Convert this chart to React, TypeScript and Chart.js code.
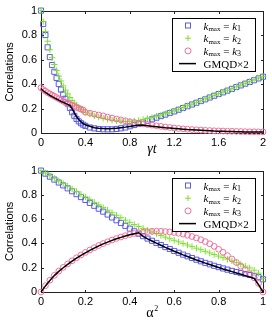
import React, { useEffect, useRef } from "react";
import { Chart, registerables } from "chart.js";
Chart.register(...registerables);

// ---------- Top panel data (x = γt) ----------
const topX = [
  0, 0.02, 0.04, 0.06, 0.08, 0.1, 0.12, 0.14, 0.16, 0.18, 0.2, 0.22, 0.24, 0.26, 0.28, 0.3, 0.32, 0.34, 0.36, 0.38, 0.4,
  0.44, 0.48, 0.52, 0.56, 0.6, 0.64, 0.68, 0.72, 0.76, 0.8, 0.84, 0.88, 0.92, 0.96, 1.0, 1.04, 1.08, 1.12, 1.16, 1.2,
  1.24, 1.28, 1.32, 1.36, 1.4, 1.44, 1.48, 1.52, 1.56, 1.6, 1.64, 1.68, 1.72, 1.76, 1.8, 1.84, 1.88, 1.92, 1.96, 2.0,
];
const topK1 = [
  1.0, 0.89, 0.8, 0.7, 0.62, 0.555, 0.5, 0.45, 0.4, 0.355, 0.315, 0.28, 0.24, 0.205, 0.17, 0.14, 0.115, 0.095, 0.08, 0.068, 0.058,
  0.045, 0.038, 0.033, 0.03, 0.03, 0.03, 0.033, 0.038, 0.045, 0.055, 0.065, 0.075, 0.088, 0.1, 0.112, 0.125, 0.138, 0.15, 0.163, 0.176,
  0.19, 0.204, 0.219, 0.233, 0.247, 0.261, 0.275, 0.29, 0.304, 0.318, 0.332, 0.346, 0.36, 0.375, 0.389, 0.403, 0.417, 0.431, 0.446, 0.46,
];
const topK2 = [
  1.0, 0.91, 0.83, 0.75, 0.68, 0.615, 0.56, 0.51, 0.465, 0.425, 0.385, 0.35, 0.32, 0.29, 0.265, 0.245, 0.225, 0.21, 0.195, 0.18, 0.17,
  0.155, 0.14, 0.13, 0.12, 0.112, 0.105, 0.1, 0.096, 0.094, 0.095, 0.098, 0.103, 0.11, 0.118, 0.127, 0.137, 0.147, 0.158, 0.169, 0.181,
  0.194, 0.208, 0.222, 0.236, 0.25, 0.264, 0.278, 0.292, 0.307, 0.321, 0.335, 0.349, 0.363, 0.378, 0.392, 0.406, 0.42, 0.434, 0.449, 0.463,
];
const topK3 = [
  0.37, 0.355, 0.342, 0.33, 0.32, 0.31, 0.3, 0.29, 0.28, 0.27, 0.26, 0.252, 0.244, 0.235, 0.226, 0.218, 0.21, 0.202, 0.195, 0.188, 0.17,
  0.162, 0.154, 0.147, 0.14, 0.13, 0.122, 0.114, 0.107, 0.1, 0.092, 0.086, 0.08, 0.074, 0.069, 0.064, 0.059, 0.054, 0.049, 0.045, 0.041,
  0.037, 0.034, 0.031, 0.028, 0.026, 0.024, 0.022, 0.02, 0.018, 0.017, 0.016, 0.015, 0.014, 0.013, 0.012, 0.011, 0.01, 0.01, 0.009, 0.009,
];
const topGMQD = [
  0.36, 0.345, 0.332, 0.32, 0.308, 0.297, 0.287, 0.278, 0.268, 0.259, 0.25, 0.242, 0.234, 0.225, 0.2, 0.165, 0.135, 0.11, 0.092, 0.077, 0.067,
  0.055, 0.043, 0.038, 0.036, 0.035, 0.036, 0.038, 0.043, 0.048, 0.054, 0.06, 0.066, 0.063, 0.059, 0.055, 0.051, 0.047, 0.043, 0.04, 0.037,
  0.034, 0.031, 0.028, 0.026, 0.024, 0.022, 0.02, 0.018, 0.016, 0.015, 0.014, 0.013, 0.012, 0.011, 0.01, 0.009, 0.009, 0.008, 0.008, 0.008,
];
const topXTicks = [0, 0.4, 0.8, 1.2, 1.6, 2];

// ---------- Bottom panel data (x = α²) ----------
const botX = [
  0, 0.02, 0.04, 0.06, 0.08, 0.1, 0.12, 0.14, 0.16, 0.18, 0.2, 0.22, 0.24, 0.26, 0.28, 0.3, 0.32, 0.34, 0.36, 0.38, 0.4,
  0.42, 0.44, 0.46, 0.48, 0.5, 0.52, 0.54, 0.56, 0.58, 0.6, 0.62, 0.64, 0.66, 0.68, 0.7, 0.72, 0.74, 0.76, 0.78, 0.8,
  0.82, 0.84, 0.86, 0.88, 0.9, 0.92, 0.94, 0.96, 0.98, 1.0,
];
const botK1 = [
  1.0, 0.975, 0.95, 0.926, 0.902, 0.878, 0.854, 0.83, 0.806, 0.782, 0.758, 0.734, 0.71, 0.686, 0.662, 0.638, 0.614, 0.591, 0.568, 0.545, 0.522,
  0.5, 0.48, 0.46, 0.44, 0.422, 0.404, 0.387, 0.37, 0.354, 0.338, 0.323, 0.308, 0.294, 0.28, 0.266, 0.253, 0.24, 0.228, 0.216, 0.205,
  0.194, 0.184, 0.174, 0.165, 0.156, 0.148, 0.14, 0.132, 0.122, 0.105,
];
const botK2 = [
  1.0, 0.98, 0.958, 0.937, 0.915, 0.893, 0.871, 0.849, 0.827, 0.805, 0.783, 0.761, 0.739, 0.717, 0.695, 0.674, 0.653, 0.632, 0.612, 0.592, 0.574,
  0.556, 0.54, 0.524, 0.509, 0.494, 0.48, 0.466, 0.452, 0.439, 0.426, 0.413, 0.4, 0.387, 0.374, 0.361, 0.348, 0.335, 0.322, 0.309, 0.296,
  0.283, 0.27, 0.256, 0.242, 0.228, 0.213, 0.198, 0.18, 0.155, 0.11,
];
const botK3 = [
  0, 0.052, 0.097, 0.137, 0.172, 0.203, 0.231, 0.257, 0.282, 0.305, 0.326, 0.346, 0.365, 0.383, 0.399, 0.414, 0.428, 0.441, 0.453, 0.464, 0.474,
  0.482, 0.488, 0.493, 0.497, 0.5, 0.501, 0.5, 0.498, 0.495, 0.49, 0.484, 0.477, 0.468, 0.457, 0.445, 0.431, 0.415, 0.397, 0.376, 0.352,
  0.327, 0.3, 0.272, 0.243, 0.213, 0.182, 0.15, 0.117, 0.07, 0.0,
];
const botGMQD = [
  0, 0.05, 0.095, 0.135, 0.17, 0.2, 0.228, 0.254, 0.279, 0.302, 0.323, 0.343, 0.362, 0.38, 0.396, 0.411, 0.425, 0.438, 0.45, 0.461, 0.471,
  0.48, 0.488, 0.458, 0.438, 0.42, 0.402, 0.385, 0.368, 0.352, 0.336, 0.321, 0.306, 0.292, 0.278, 0.264, 0.251, 0.238, 0.226, 0.214, 0.202,
  0.19, 0.179, 0.168, 0.157, 0.146, 0.135, 0.124, 0.112, 0.06, 0.0,
];
const botXTicks = [0, 0.2, 0.4, 0.6, 0.8, 1];

const yTicks = [0, 0.2, 0.4, 0.6, 0.8, 1];
const yTitle = "Correlations";
const legendLabels = ["k1", "k2", "k3", "GMQD×2"];

const BLUE = "#5b5be8";
const GREEN = "#7ee02c";
const PINK = "#f2709b";
const SANS = "'Liberation Sans', Arial, sans-serif";
const SERIF = "'Liberation Serif', 'Times New Roman', serif";

function fmt(v: number) {
  return String(Number(v.toFixed(2)));
}

function drawLegend(ctx: CanvasRenderingContext2D, area: any) {
  const w = 83, h = 53;
  const lx = Math.round(area.right - 91.5) + 0.5;
  const ly = Math.round(area.top + 7.5) + 0.5;
  ctx.save();
  ctx.fillStyle = "#fff";
  ctx.fillRect(lx, ly, w, h);
  ctx.strokeStyle = "#000";
  ctx.lineWidth = 1;
  ctx.strokeRect(lx, ly, w, h);
  const mx = lx + 15.5;
  const tx = lx + 31;
  legendLabels.forEach((lab, i) => {
    const cy = ly + 7 + i * 12.7;
    ctx.lineWidth = 1;
    if (i === 0) {
      ctx.strokeStyle = BLUE;
      ctx.strokeRect(mx - 2.5, cy - 2.5, 5, 5);
    } else if (i === 1) {
      ctx.strokeStyle = GREEN;
      ctx.beginPath();
      ctx.moveTo(mx - 3, cy); ctx.lineTo(mx + 3, cy);
      ctx.moveTo(mx, cy - 3); ctx.lineTo(mx, cy + 3);
      ctx.stroke();
    } else if (i === 2) {
      ctx.strokeStyle = PINK;
      ctx.beginPath();
      ctx.arc(mx, cy, 3, 0, Math.PI * 2);
      ctx.stroke();
    } else {
      ctx.strokeStyle = "#000";
      ctx.lineWidth = 1.5;
      ctx.beginPath();
      ctx.moveTo(lx + 6.5, cy); ctx.lineTo(lx + 23.5, cy);
      ctx.stroke();
    }
    ctx.fillStyle = "#000";
    ctx.textBaseline = "alphabetic";
    ctx.textAlign = "left";
    const base = cy + 4;
    if (i < 3) {
      let x = tx;
      ctx.font = `italic 11px ${SERIF}`;
      ctx.fillText("k", x, base); x += ctx.measureText("k").width;
      ctx.font = `7px ${SERIF}`;
      ctx.fillText("max", x, base + 1.5); x += ctx.measureText("max").width;
      ctx.font = `11px ${SERIF}`;
      ctx.fillText(" = ", x, base); x += ctx.measureText(" = ").width;
      ctx.font = `italic 11px ${SERIF}`;
      ctx.fillText("k", x, base); x += ctx.measureText("k").width;
      ctx.font = `8px ${SERIF}`;
      ctx.fillText(lab.slice(1), x, base + 1.5);
    } else {
      ctx.font = `11px ${SERIF}`;
      ctx.fillText(lab, tx, base);
    }
  });
  ctx.restore();
}

function makeDeco(kind: "top" | "bot") {
  return {
    id: "deco_" + kind,
    beforeDatasetsDraw(chart: any) {
      const { ctx, chartArea: a, scales } = chart;
      const L = Math.round(a.left) + 0.5, R = Math.round(a.right) + 0.5;
      const T = Math.round(a.top) + 0.5, B = Math.round(a.bottom) + 0.5;
      ctx.save();
      ctx.strokeStyle = "#222";
      ctx.lineWidth = 1;
      ctx.strokeRect(L, T, R - L, B - T);
      const tl = 2.5;
      ctx.beginPath();
      scales.x.ticks.forEach((t: any) => {
        const px = Math.round(scales.x.getPixelForValue(t.value)) + 0.5;
        ctx.moveTo(px, B); ctx.lineTo(px, B - tl);
        ctx.moveTo(px, T); ctx.lineTo(px, T + tl);
      });
      scales.y.ticks.forEach((t: any) => {
        const py = Math.round(scales.y.getPixelForValue(t.value)) + 0.5;
        ctx.moveTo(L, py); ctx.lineTo(L + tl, py);
        ctx.moveTo(R, py); ctx.lineTo(R - tl, py);
      });
      ctx.stroke();

      // y title
      ctx.fillStyle = "#000";
      ctx.font = `11px ${SANS}`;
      ctx.textAlign = "center";
      ctx.textBaseline = "middle";
      ctx.save();
      ctx.translate(10, (a.top + a.bottom) / 2);
      ctx.rotate(-Math.PI / 2);
      ctx.fillText(yTitle, 0, 0);
      ctx.restore();

      // x title
      const cx = (a.left + a.right) / 2;
      ctx.textBaseline = "alphabetic";
      ctx.textAlign = "left";
      if (kind === "top") {
        ctx.font = `italic 14px ${SERIF}`;
        const w = ctx.measureText("γt").width;
        ctx.fillText("γt", cx - w / 2, a.bottom + 20);
      } else {
        ctx.font = `14px ${SERIF}`;
        const w1 = ctx.measureText("α").width;
        ctx.font = `8px ${SERIF}`;
        const w2 = ctx.measureText("2").width;
        let x = cx - (w1 + w2) / 2;
        ctx.font = `14px ${SERIF}`;
        ctx.fillText("α", x, a.bottom + 25);
        ctx.font = `8px ${SERIF}`;
        ctx.fillText("2", x + w1 + 0.5, a.bottom + 19);
      }
      ctx.restore();
    },
    afterDatasetsDraw(chart: any) {
      drawLegend(chart.ctx, chart.chartArea);
    },
  };
}

function buildConfig(kind: "top" | "bot", canvasH: number, bottom: number) {
  const xs = kind === "top" ? topX : botX;
  const k1 = kind === "top" ? topK1 : botK1;
  const k2 = kind === "top" ? topK2 : botK2;
  const k3 = kind === "top" ? topK3 : botK3;
  const g = kind === "top" ? topGMQD : botGMQD;
  const xTicks = kind === "top" ? topXTicks : botXTicks;
  const pts = (ys: number[]) => xs.map((x, i) => ({ x, y: ys[i] }));
  return {
    type: "line" as const,
    data: {
      datasets: [
        { label: "k1", data: pts(k1), showLine: false, clip: false, pointStyle: "rect", pointRadius: 3.6, borderColor: BLUE, backgroundColor: "transparent", borderWidth: 1, order: 4 },
        { label: "k2", data: pts(k2), showLine: false, clip: false, pointStyle: "cross", pointRadius: 3.2, borderColor: GREEN, backgroundColor: "transparent", borderWidth: 1, order: 3 },
        { label: "k3", data: pts(k3), showLine: false, clip: false, pointStyle: "circle", pointRadius: 2.9, borderColor: PINK, backgroundColor: "transparent", borderWidth: 1, order: 2 },
        { label: "GMQD×2", data: pts(g), showLine: true, clip: false, pointRadius: 0, borderColor: "#000", borderWidth: 1.5, tension: 0, order: 1 },
      ],
    },
    options: {
      responsive: false,
      animation: false,
      events: [],
      layout: { padding: { left: 0, right: 9, top: 10, bottom: 0 } },
      plugins: { legend: { display: false }, tooltip: { enabled: false } },
      scales: {
        x: {
          type: "linear",
          min: xTicks[0],
          max: xTicks[xTicks.length - 1],
          grid: { display: false, drawTicks: false },
          border: { display: false },
          afterBuildTicks: (s: any) => { s.ticks = xTicks.map((v) => ({ value: v })); },
          afterFit: (s: any) => { s.height = canvasH - bottom; },
          ticks: { padding: 3, color: "#000", font: { family: SANS, size: 11 }, maxRotation: 0, callback: (v: any) => fmt(Number(v)) },
        },
        y: {
          min: 0,
          max: 1,
          grid: { display: false, drawTicks: false },
          border: { display: false },
          afterBuildTicks: (s: any) => { s.ticks = yTicks.map((v) => ({ value: v })); },
          afterFit: (s: any) => { s.width = 41; },
          ticks: { padding: 4, color: "#000", font: { family: SANS, size: 11 }, callback: (v: any) => fmt(Number(v)) },
        },
      },
    },
    plugins: [makeDeco(kind)],
  };
}

function Panel({ kind, h, bottom }: { kind: "top" | "bot"; h: number; bottom: number }) {
  const ref = useRef<HTMLCanvasElement>(null);
  useEffect(() => {
    if (!ref.current) return;
    const chart = new Chart(ref.current, buildConfig(kind, h, bottom) as any);
    return () => chart.destroy();
  }, [kind, h, bottom]);
  return <canvas ref={ref} width={272} height={h} style={{ display: "block", width: 272, height: h }} />;
}

export default function App() {
  return (
    <div style={{ position: "absolute", left: 0, top: 0, width: 272, height: 325, background: "#fff" }}>
      <Panel kind="top" h={160} bottom={133} />
      <Panel kind="bot" h={165} bottom={132} />
    </div>
  );
}
